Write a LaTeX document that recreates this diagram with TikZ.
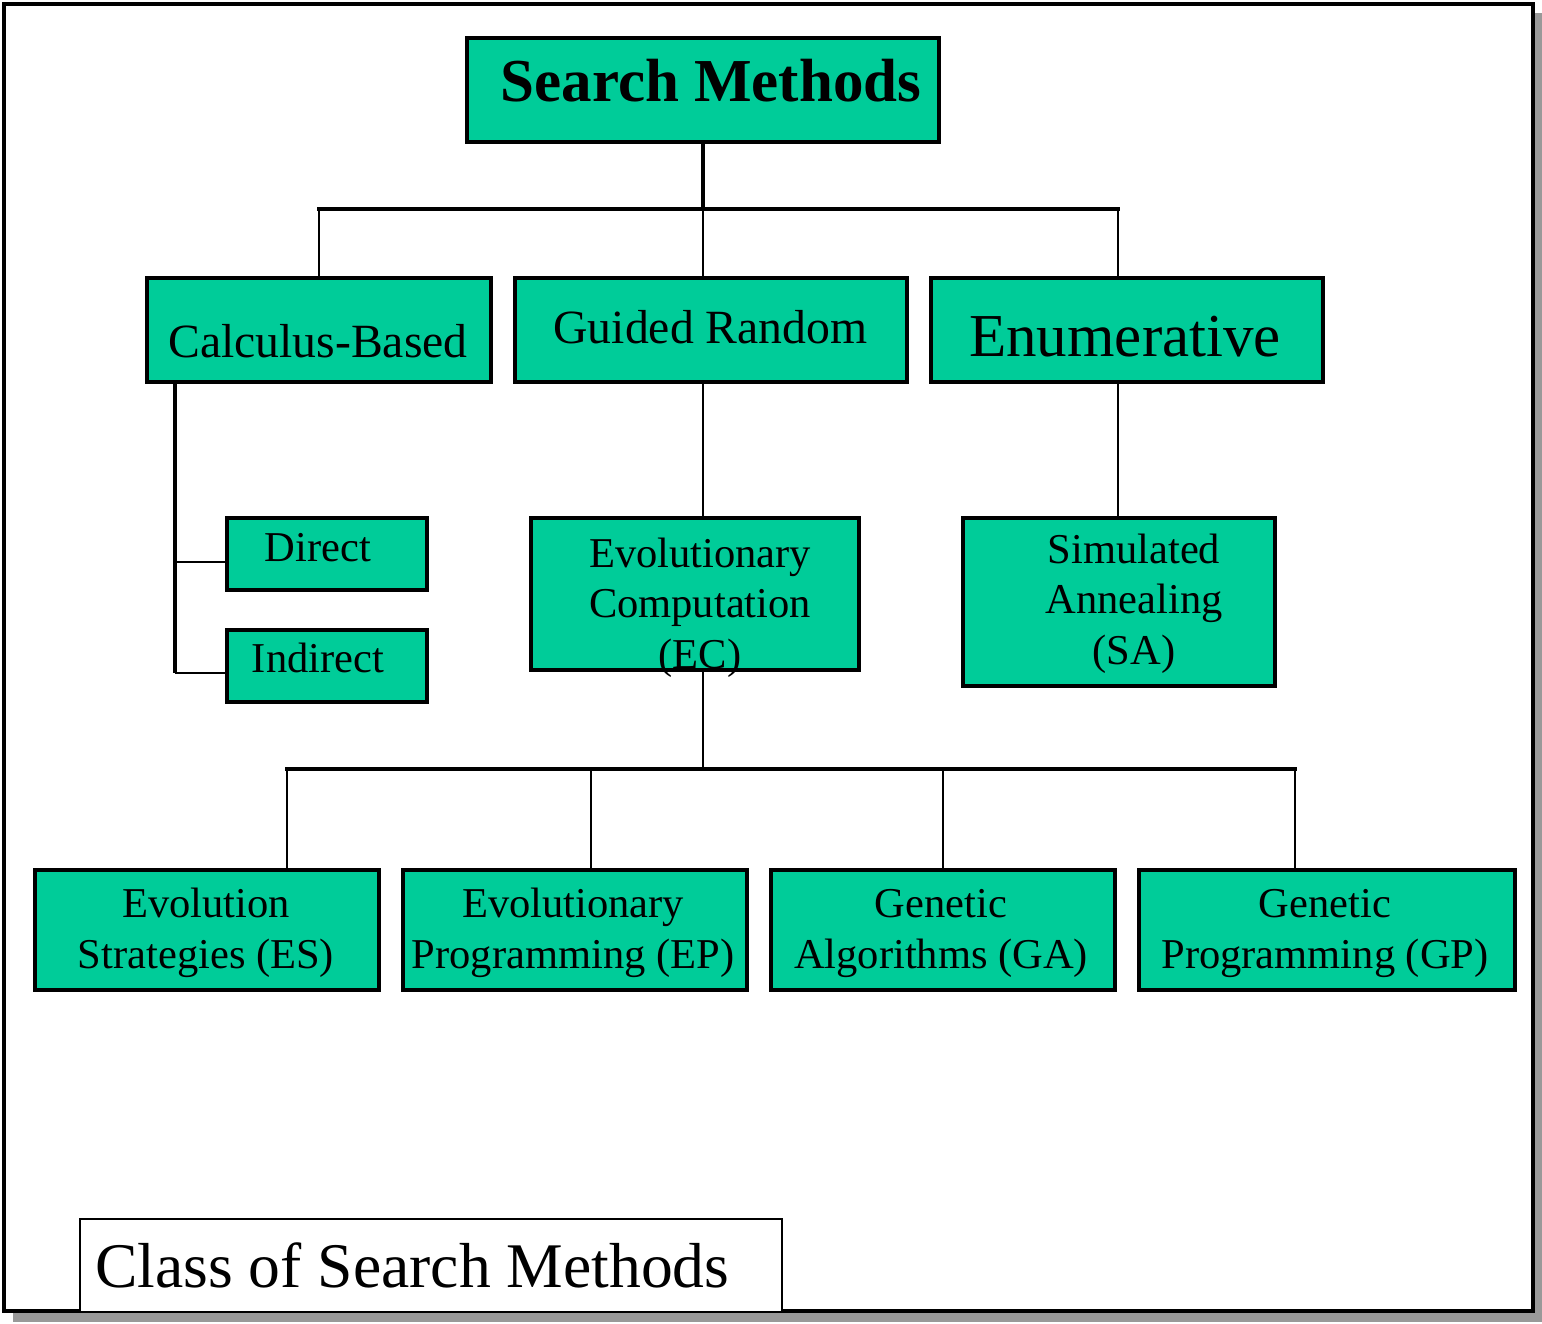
\documentclass[tikz,border=0pt]{standalone}
\usepackage{fontspec}
\setmainfont{Liberation Serif}
\definecolor{boxgreen}{RGB}{0,204,153}
\definecolor{shadowgray}{RGB}{153,153,153}
\begin{document}
\begin{tikzpicture}[x=1pt,y=-1pt,
  box/.style={draw=black, fill=boxgreen, line width=4pt, inner sep=0pt, outer sep=0pt},
  conn/.style={line width=2.5pt},
  thickconn/.style={line width=3.5pt},
  txt/.style={align=center, anchor=base, inner sep=0pt, font=\fontsize{42.5}{50.5}\selectfont},
  bigtxt/.style={anchor=base, inner sep=0pt, font=\fontsize{47.7}{55}\selectfont}]
\useasboundingbox (0,0) rectangle (1542,1324);
% frame with shadow
\fill[shadowgray] (13,13) rectangle (1542,1322);
\draw[line width=4.5pt, fill=white] (4,4) rectangle (1533,1311);

% boxes
\node[box, minimum width=472, minimum height=104] (sm) at (703,90) {};
\node[box, minimum width=344, minimum height=104] (cb) at (319,330) {};
\node[box, minimum width=392, minimum height=104] (gr) at (711,330) {};
\node[box, minimum width=392, minimum height=104] (en) at (1127,330) {};
\node[box, minimum width=200, minimum height=72] (dir) at (327,554) {};
\node[box, minimum width=200, minimum height=72] (ind) at (327,666) {};
\node[box, minimum width=328, minimum height=152] (ec) at (695,594) {};
\node[box, minimum width=312, minimum height=168] (sa) at (1119,602) {};
\node[box, minimum width=344, minimum height=120] (es) at (207,930) {};
\node[box, minimum width=344, minimum height=120] (ep) at (575,930) {};
\node[box, minimum width=344, minimum height=120] (ga) at (943,930) {};
\node[box, minimum width=376, minimum height=120] (gp) at (1327,930) {};
\node[draw=black, fill=white, line width=2pt, inner sep=0pt, minimum width=702, minimum height=93] (cls) at (431,1265.5) {};

% connector points
\coordinate (busL) at (319,209);
\coordinate (busM) at (703,209);
\coordinate (busR) at (1118,209);
\coordinate (cbT) at (175,382);
\coordinate (cbB) at (175,673);
\coordinate (cbD) at (175,562);
\coordinate (busTwoL) at (287,769);
\coordinate (busTwoA) at (591,769);
\coordinate (busTwoM) at (703,769);
\coordinate (busTwoB) at (943,769);
\coordinate (busTwoR) at (1295,769);

% connectors
\draw[thickconn] (sm.south) -- (busM);
\draw[thickconn, line cap=rect] (busL) -- (busR);
\draw[conn] (busL) -- (busL |- cb.north);
\draw[conn] (busM) -- (busM |- gr.north);
\draw[conn] (busR) -- (busR |- en.north);
\draw[line width=4pt] (cbT) -- (cbB);
\draw[conn] (cbD) -- (cbD -| dir.west);
\draw[conn] (cbB) -- (cbB -| ind.west);
\draw[conn] (busM |- gr.south) -- (busM |- ec.north);
\draw[conn] (busR |- en.south) -- (busR |- sa.north);
\draw[conn] (busTwoM |- ec.south) -- (busTwoM);
\draw[thickconn, line cap=rect] (busTwoL) -- (busTwoR);
\draw[conn] (busTwoL) -- (busTwoL |- es.north);
\draw[conn] (busTwoA) -- (busTwoA |- ep.north);
\draw[conn] (busTwoB) -- (busTwoB |- ga.north);
\draw[conn] (busTwoR) -- (busTwoR |- gp.north);

% texts
\node[anchor=base, inner sep=0pt, font=\fontsize{61}{70}\selectfont\bfseries] (smt) at (711,102) {Search Methods};
\node[bigtxt] (cbt) at (318,357) {Calculus-Based};
\node[bigtxt] (grt) at (710.5,343) {Guided Random};
\node[anchor=base, inner sep=0pt, font=\fontsize{61}{70}\selectfont] (ent) at (1125,356) {Enumerative};
\node[txt] (dirt) at (318,561) {Direct};
\node[txt] (indt) at (318,672) {Indirect};
\node[txt] (ect) at (700,668) {Evolutionary\\Computation\\(EC)};
\node[txt] (sat) at (1134,664) {Simulated\\Annealing\\(SA)};
\node[txt] (est) at (206,968) {Evolution\\Strategies (ES)};
\node[txt] (ept) at (573,968) {Evolutionary\\Programming (EP)};
\node[txt] (gat) at (941,968) {Genetic\\Algorithms (GA)};
\node[txt] (gpt) at (1325,968) {Genetic\\Programming (GP)};
\node[anchor=base west, inner sep=0pt, font=\fontsize{63.6}{70}\selectfont] (clst) at (95,1287) {Class of Search Methods};
\end{tikzpicture}
\end{document}
